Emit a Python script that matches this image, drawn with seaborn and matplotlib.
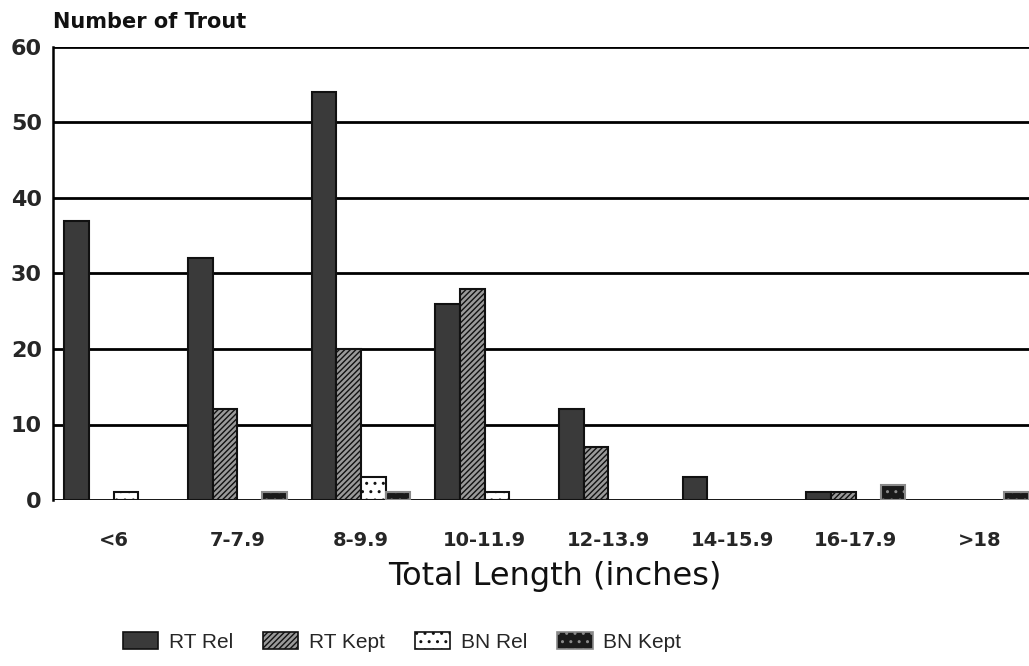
import matplotlib
matplotlib.use("Agg")
import matplotlib.pyplot as plt
import seaborn as sns
import pandas as pd
from matplotlib.patches import Patch

categories = ["<6", "7-7.9", "8-9.9", "10-11.9", "12-13.9", "14-15.9", "16-17.9", ">18"]
rt_rel = [37, 32, 54, 26, 12, 3, 1, 0]
rt_kept = [0, 12, 20, 28, 7, 0, 1, 0]
bn_rel = [1, 0, 3, 1, 0, 0, 0, 0]
bn_kept = [0, 1, 1, 0, 0, 0, 2, 1]
series_names = ["RT Rel", "RT Kept", "BN Rel", "BN Kept"]
y_ticks = [0, 10, 20, 30, 40, 50, 60]

rows = []
for name, vals in zip(series_names, [rt_rel, rt_kept, bn_rel, bn_kept]):
    for c, v in zip(categories, vals):
        rows.append({"length": c, "count": v, "group": name})
df = pd.DataFrame(rows)

sns.set_theme(style="white")
plt.rcParams['font.family'] = ['DejaVu Sans']

fig = plt.figure(figsize=(10.29, 6.66), dpi=100)
ax = fig.add_axes([53/1029, 1 - 500/666, 1 - 53/1029, (500 - 47)/666])

faces = {"RT Rel": "#3a3a3a", "RT Kept": "#9a9a9a", "BN Rel": "#ffffff", "BN Kept": "#1a1a1a"}
hatches = {"RT Rel": "", "RT Kept": "//////", "BN Rel": "..", "BN Kept": ".."}
edges = {"RT Rel": "#111111", "RT Kept": "#111111", "BN Rel": "#111111", "BN Kept": "#8a8a8a"}

sns.barplot(data=df, x="length", y="count", hue="group", order=categories,
            hue_order=series_names, palette=faces, saturation=1, width=0.8,
            ax=ax, legend=False, zorder=3)

for cont, name in zip(ax.containers, series_names):
    for p in cont.patches:
        p.set_facecolor(faces[name])
        p.set_hatch(hatches[name])
        p.set_edgecolor(edges[name])
        p.set_linewidth(1.5 if p.get_height() > 0 else 0)
        if p.get_height() <= 0:
            p.set_visible(False)

ax.set_xlim(-0.49, 7.40)
ax.set_ylim(0, 60)
ax.set_yticks(y_ticks)
ax.set_yticklabels([str(t) for t in y_ticks], fontsize=16, fontweight="bold")
ax.set_xticks(range(len(categories)))
ax.set_xticklabels(categories, fontsize=14, fontweight="bold")
ax.tick_params(axis="both", length=0)
ax.tick_params(axis="x", pad=22)
ax.tick_params(axis="y", pad=8)
ax.yaxis.grid(True, color="black", linewidth=2)
ax.set_axisbelow(True)
for s in ["top", "right", "bottom"]:
    ax.spines[s].set_visible(False)
ax.spines["left"].set_color("black")
ax.spines["left"].set_linewidth(1.8)
ax.set_xlabel("")
ax.set_ylabel("")

fig.text(555/1029, 1 - 577/666, "Total Length (inches)", fontsize=23,
         ha="center", va="center", color="#111111")
fig.text(53/1029, 1 - 22/666, "Number of Trout", fontsize=15,
         fontweight="bold", ha="left", va="center", color="#111111")

handles = [Patch(facecolor=faces[n], hatch=hatches[n], edgecolor=edges[n], linewidth=1.2,
                 label=n) for n in series_names]
leg = fig.legend(handles=handles, loc="center", bbox_to_anchor=(402/1029, 1 - 642/666),
                 ncol=4, frameon=False, fontsize=14, handlelength=1.7, handleheight=0.9,
                 handletextpad=0.5, columnspacing=1.45,
                 prop={"family": "Liberation Sans", "size": 15})

fig.savefig("out.png", dpi=100, facecolor="white")
